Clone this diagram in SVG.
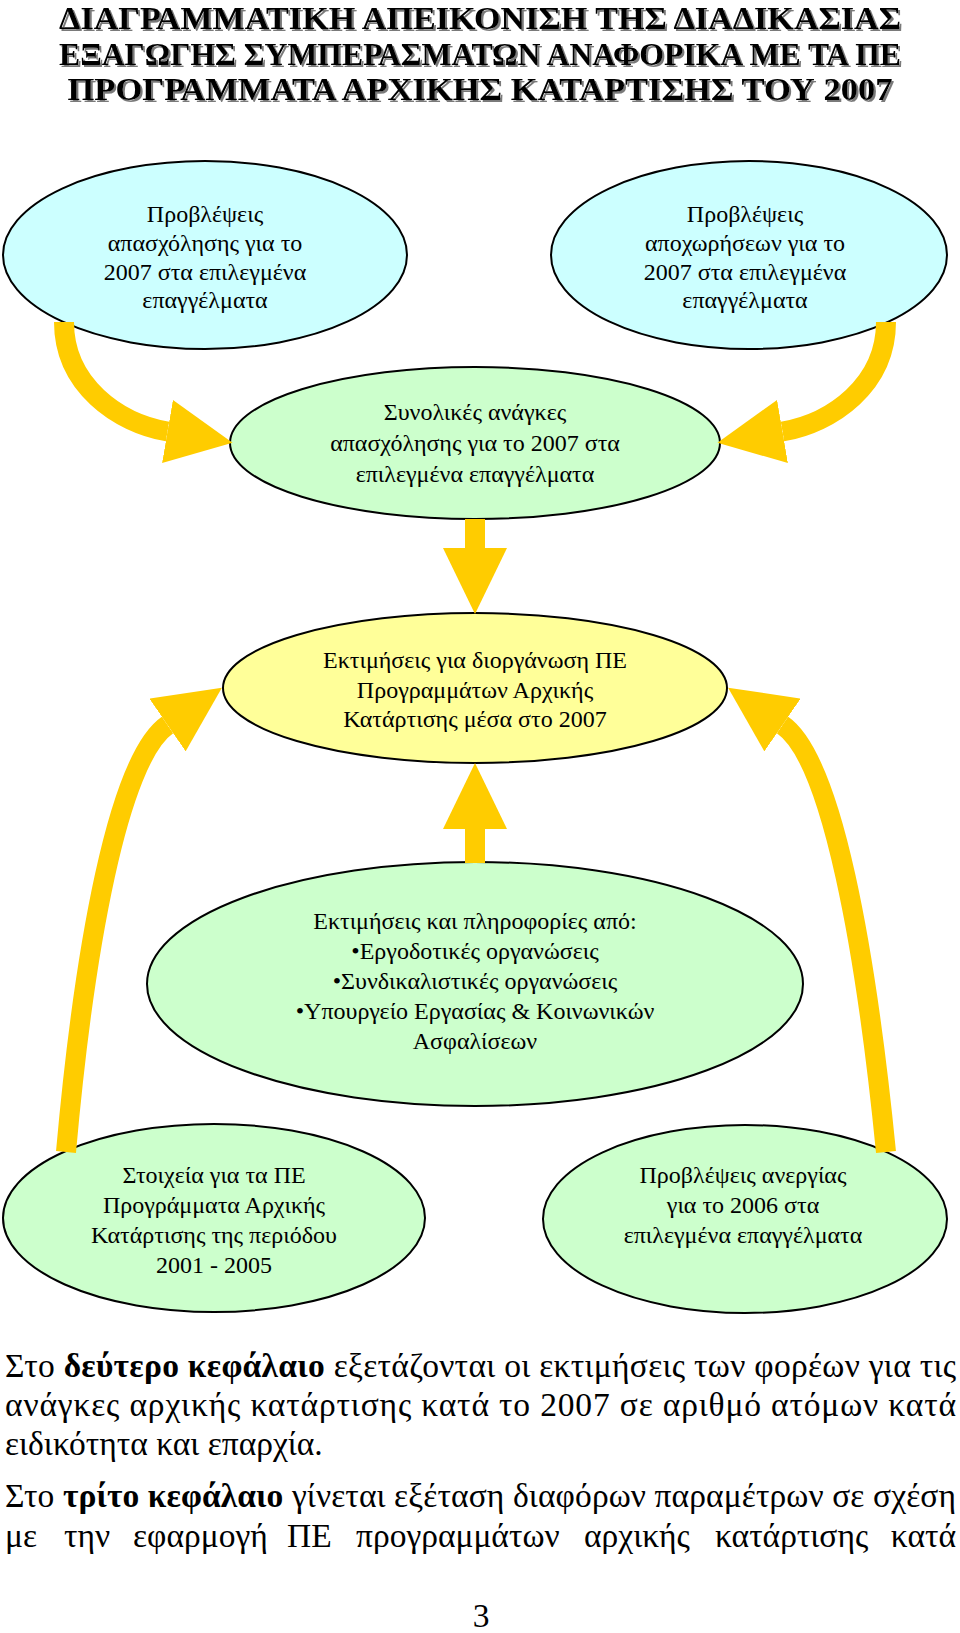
<svg xmlns="http://www.w3.org/2000/svg" width="960" height="1633" viewBox="0 0 960 1633">
<defs>
<style>
.node ellipse{stroke:#000;stroke-width:2}
.blue{fill:#CCFFFF}
.green{fill:#CCFFCC}
.yellow{fill:#FFFF99}
.nt{font-family:"Liberation Serif","Times New Roman",serif;font-size:24px;fill:#000;text-anchor:middle}
.title{font-family:"Liberation Serif","Times New Roman",serif;font-size:32px;font-weight:bold;text-anchor:middle;fill:#000}
.body{font-family:"Liberation Serif","Times New Roman",serif;font-size:33.5px;fill:#000}
.conn path{fill:none;stroke:#FFCC00;stroke-width:20;marker-end:url(#head)}
</style>
<filter id="shadow" x="-5%" y="-20%" width="110%" height="160%">
<feDropShadow dx="2" dy="2" stdDeviation="0.4" flood-color="#7a7a7a" flood-opacity="1"/>
</filter>
<marker id="head" markerUnits="userSpaceOnUse" markerWidth="66" markerHeight="64" viewBox="0 0 66 64" refX="0" refY="32" orient="auto">
<path d="M0,0 L66,32 L0,64 z" fill="#FFCC00"/>
</marker>
</defs>
<rect width="960" height="1633" fill="#fff"/>

<g id="title" filter="url(#shadow)">
<text class="title" x="480" y="29" textLength="842" lengthAdjust="spacingAndGlyphs">ΔΙΑΓΡΑΜΜΑΤΙΚΗ ΑΠΕΙΚΟΝΙΣΗ ΤΗΣ ΔΙΑΔΙΚΑΣΙΑΣ</text>
<text class="title" x="480" y="64.5" textLength="842" lengthAdjust="spacingAndGlyphs">ΕΞΑΓΩΓΗΣ ΣΥΜΠΕΡΑΣΜΑΤΩΝ ΑΝΑΦΟΡΙΚΑ ΜΕ ΤΑ ΠΕ</text>
<text class="title" x="480" y="100" textLength="825" lengthAdjust="spacingAndGlyphs">ΠΡΟΓΡΑΜΜΑΤΑ ΑΡΧΙΚΗΣ ΚΑΤΑΡΤΙΣΗΣ ΤΟΥ 2007</text>
</g>

<g id="node-employment" class="node">
<ellipse class="blue" cx="205" cy="255" rx="202" ry="94"/>
<text class="nt" x="205" y="222">Προβλέψεις</text>
<text class="nt" x="205" y="251">απασχόλησης για το</text>
<text class="nt" x="205" y="280">2007 στα επιλεγμένα</text>
<text class="nt" x="205" y="308">επαγγέλματα</text>
</g>

<g id="node-retirements" class="node">
<ellipse class="blue" cx="749" cy="255" rx="198" ry="94"/>
<text class="nt" x="745" y="222">Προβλέψεις</text>
<text class="nt" x="745" y="251">αποχωρήσεων για το</text>
<text class="nt" x="745" y="280">2007 στα επιλεγμένα</text>
<text class="nt" x="745" y="308">επαγγέλματα</text>
</g>

<g id="node-total-needs" class="node">
<ellipse class="green" cx="475" cy="443" rx="245" ry="76"/>
<text class="nt" x="475" y="420">Συνολικές ανάγκες</text>
<text class="nt" x="475" y="451">απασχόλησης για το 2007 στα</text>
<text class="nt" x="475" y="482">επιλεγμένα επαγγέλματα</text>
</g>

<g id="node-estimates" class="node">
<ellipse class="yellow" cx="475" cy="688" rx="252" ry="75"/>
<text class="nt" x="475" y="668">Εκτιμήσεις για διοργάνωση ΠΕ</text>
<text class="nt" x="475" y="698">Προγραμμάτων Αρχικής</text>
<text class="nt" x="475" y="727">Κατάρτισης μέσα στο 2007</text>
</g>

<g id="node-information" class="node">
<ellipse class="green" cx="475" cy="984" rx="328" ry="122"/>
<text class="nt" x="475" y="929">Εκτιμήσεις και πληροφορίες από:</text>
<text class="nt" x="475" y="959">•Εργοδοτικές οργανώσεις</text>
<text class="nt" x="475" y="989">•Συνδικαλιστικές οργανώσεις</text>
<text class="nt" x="475" y="1019">•Υπουργείο Εργασίας &amp; Κοινωνικών</text>
<text class="nt" x="475" y="1049">Ασφαλίσεων</text>
</g>

<g id="node-programmes-data" class="node">
<ellipse class="green" cx="214" cy="1218" rx="211" ry="94"/>
<text class="nt" x="214" y="1183">Στοιχεία για τα ΠΕ</text>
<text class="nt" x="214" y="1213">Προγράμματα Αρχικής</text>
<text class="nt" x="214" y="1243">Κατάρτισης της περιόδου</text>
<text class="nt" x="214" y="1273">2001 - 2005</text>
</g>

<g id="node-unemployment" class="node">
<ellipse class="green" cx="745" cy="1219" rx="202" ry="94"/>
<text class="nt" x="743" y="1183">Προβλέψεις ανεργίας</text>
<text class="nt" x="743" y="1213">για το 2006 στα</text>
<text class="nt" x="743" y="1243">επιλεγμένα επαγγέλματα</text>
</g>

<g id="connectors" class="conn">
<path d="M64,322 C64,385 118,423 167.5,431.5"/>
<path d="M886,322 C886,385 832,423 782.5,431.5"/>
<path d="M475,519 L475,548"/>
<path d="M475,863 L475,829"/>
<path d="M66,1152 C84,950 118,759 167.5,725"/>
<path d="M886,1152 C866,950 832,759 782.5,725"/>
</g>

<g id="body-text">
<text class="body" x="5" y="1377" textLength="951" lengthAdjust="spacing">Στο <tspan font-weight="bold">δεύτερο κεφάλαιο</tspan> εξετάζονται οι εκτιμήσεις των φορέων για τις</text>
<text class="body" x="5" y="1416" textLength="951" lengthAdjust="spacing">ανάγκες αρχικής κατάρτισης κατά το 2007 σε αριθμό ατόμων κατά</text>
<text class="body" x="5" y="1455">ειδικότητα και επαρχία.</text>
<text class="body" x="5" y="1507" textLength="951" lengthAdjust="spacing">Στο <tspan font-weight="bold">τρίτο κεφάλαιο</tspan> γίνεται εξέταση διαφόρων παραμέτρων σε σχέση</text>
<text class="body" y="1547"><tspan x="5">με</tspan> <tspan x="64">την</tspan> <tspan x="133">εφαρμογή</tspan> <tspan x="287">ΠΕ</tspan> <tspan x="356">προγραμμάτων</tspan> <tspan x="584">αρχικής</tspan> <tspan x="715">κατάρτισης</tspan> <tspan x="956" text-anchor="end">κατά</tspan></text>
<text class="body" x="481" y="1627" text-anchor="middle">3</text>
</g>
</svg>
